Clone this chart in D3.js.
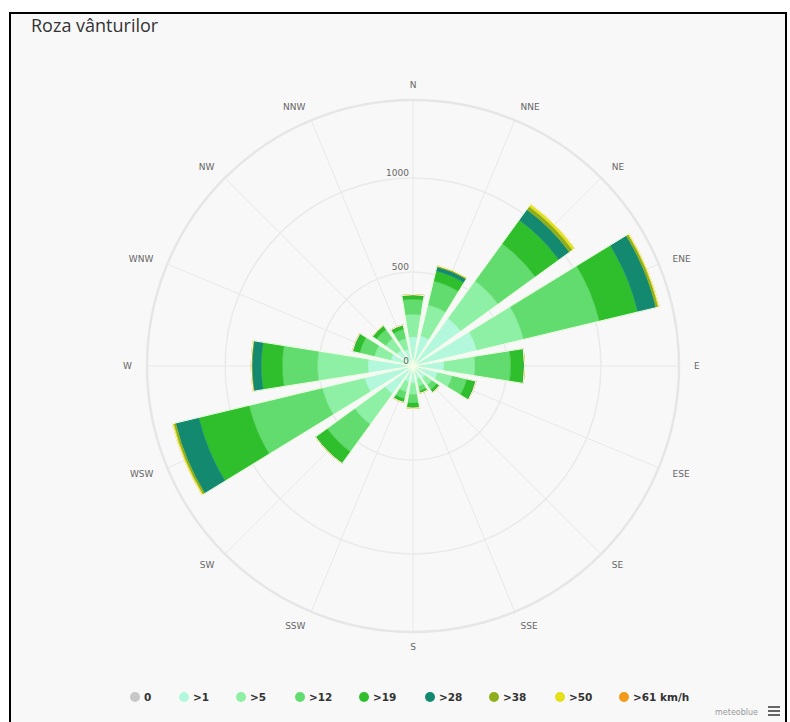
<!DOCTYPE html>
<html><head><meta charset="utf-8">
<script src="https://cdn.jsdelivr.net/npm/d3@7"></script>
<style>body{margin:0;background:#fff}svg{display:block}</style>
</head><body>
<svg id="c" width="790" height="722"></svg>
<script>
// ---- data ----
const directions = ["N","NNE","NE","ENE","E","ESE","SE","SSE","S","SSW","SW","WSW","W","WNW","NW","NNW"];
const speedBins = ["0",">1",">5",">12",">19",">28",">38",">50",">61 km/h"];
const binColors = ["#c8c8c8","#b3f7dc","#8df0a4","#62dc6e","#2fbf2d","#138a6f","#8fae1b","#e4e01a","#f39a1a"];
const calm = [15,15,15,15,15,15,12,12,12,12,15,15,15,12,12,12];
const s1   = [140,150,300,335,150,120,70,60,80,75,170,250,225,110,95,80];
const s5   = [120,170,245,255,165,80,45,40,60,55,200,232,268,90,75,60];
const s12  = [80,130,245,415,190,80,30,25,45,38,180,400,187,80,60,50];
const s19  = [22,55,155,210,70,45,15,12,25,18,75,275,112,35,22,20];
const s28  = [3,22,70,100,4,5,3,1,3,2,2,127,49,5,3,3];
const s38  = [0,6,20,12,0,0,0,0,0,0,0,11,5,0,0,0];
const s50  = [0,2,15,6,0,0,0,0,0,0,0,7,0,0,0,0];
const s61  = [0,0,0,0,0,0,0,0,0,0,0,0,0,0,0,0];
const yTicks = [0,500,1000];
const title = "Roza vânturilor";
const credit = "meteoblue";

const series = [calm,s1,s5,s12,s19,s28,s38,s50,s61];
const rows = directions.map((d,i)=>{const r={dir:d}; speedBins.forEach((b,j)=>r[b]=series[j][i]); return r;});

const svg = d3.select("#c");
const W = 790, H = 722;
// frame
svg.append("rect").attr("x",0).attr("y",0).attr("width",W).attr("height",H).attr("fill","#fff");
svg.append("rect").attr("x",10).attr("y",13).attr("width",776).attr("height",730)
  .attr("fill","#f8f8f8").attr("stroke","#000").attr("stroke-width",2);

svg.append("text").attr("x",31).attr("y",32).text(title)
  .attr("font-family","'Open Sans','DejaVu Sans',sans-serif").attr("font-size",18).attr("fill","#333");

const cx = 413, cy = 366, R = 266;
const totals = rows.map(r=>d3.sum(speedBins,b=>r[b]));
const yMax = d3.max(totals)*1.05;
const y = d3.scaleLinear().domain([0,yMax]).range([0,R]);
const step = 2*Math.PI/directions.length;
const x = d3.scalePoint().domain(directions).range([0, 2*Math.PI - step]);
const half = step*0.8/2;

const g = svg.append("g").attr("transform",`translate(${cx},${cy})`);
// grid
directions.forEach(d=>{
  const a = x(d);
  g.append("line").attr("x1",0).attr("y1",0)
   .attr("x2",R*Math.sin(a)).attr("y2",-R*Math.cos(a))
   .attr("stroke","#e8e8e8").attr("stroke-width",1);
});
yTicks.filter(t=>t>0).forEach(t=>{
  g.append("circle").attr("r",y(t)).attr("fill","none").attr("stroke","#eaeaea").attr("stroke-width",1.5);
});
g.append("circle").attr("r",R).attr("fill","none").attr("stroke","#e6e6e6").attr("stroke-width",2.5);

// bars
const stack = d3.stack().keys(speedBins)(rows);
const arc = d3.arc();
stack.forEach((layer,j)=>{
  g.append("g").selectAll("path").data(layer).join("path")
   .attr("d",d=>arc({innerRadius:y(d[0]),outerRadius:y(d[1]),
      startAngle:x(d.data.dir)-half,endAngle:x(d.data.dir)+half}))
   .attr("fill",binColors[j]).attr("stroke",binColors[j]).attr("stroke-width",0.4);
});
// pale outline around each whole bar
g.append("g").selectAll("path").data(rows).join("path")
  .attr("d",(d,i)=>arc({innerRadius:0,outerRadius:y(totals[i]),
     startAngle:x(d.dir)-half,endAngle:x(d.dir)+half}))
  .attr("fill","none").attr("stroke","#f4ffe6").attr("stroke-width",1);

// y labels
yTicks.forEach(t=>{
  g.append("text").attr("x",-4).attr("y",-y(t)-5).attr("dy","0.35em")
   .attr("text-anchor","end").text(t)
   .attr("font-family","'DejaVu Sans',sans-serif").attr("font-size",9).attr("fill","#666");
});
// direction labels
const LR = 281;
directions.forEach(d=>{
  const a = x(d), s = Math.sin(a);
  g.append("text").attr("x",LR*s).attr("y",-LR*Math.cos(a)).attr("dy","0.35em")
   .attr("text-anchor", s>0.1?"start":(s<-0.1?"end":"middle")).text(d)
   .attr("font-family","'DejaVu Sans',sans-serif").attr("font-size",9).attr("fill","#666");
});

// legend
const legX = [135,184,241,300,364,430,494,560,624];
const leg = svg.append("g");
speedBins.forEach((b,j)=>{
  leg.append("circle").attr("cx",legX[j]).attr("cy",697).attr("r",5).attr("fill",binColors[j]);
  leg.append("text").attr("x",legX[j]+9).attr("y",697).attr("dy","0.35em").text(b)
   .attr("font-family","'DejaVu Sans',sans-serif").attr("font-size",10.5).attr("font-weight","bold").attr("fill","#333");
});
svg.append("text").attr("x",758).attr("y",715).attr("text-anchor","end").text(credit)
  .attr("font-family","'DejaVu Sans',sans-serif").attr("font-size",8).attr("fill","#999");
[0,4,8].forEach(o=>svg.append("rect").attr("x",768).attr("y",706+o).attr("width",12).attr("height",2).attr("fill","#666"));
</script>
</body></html>
